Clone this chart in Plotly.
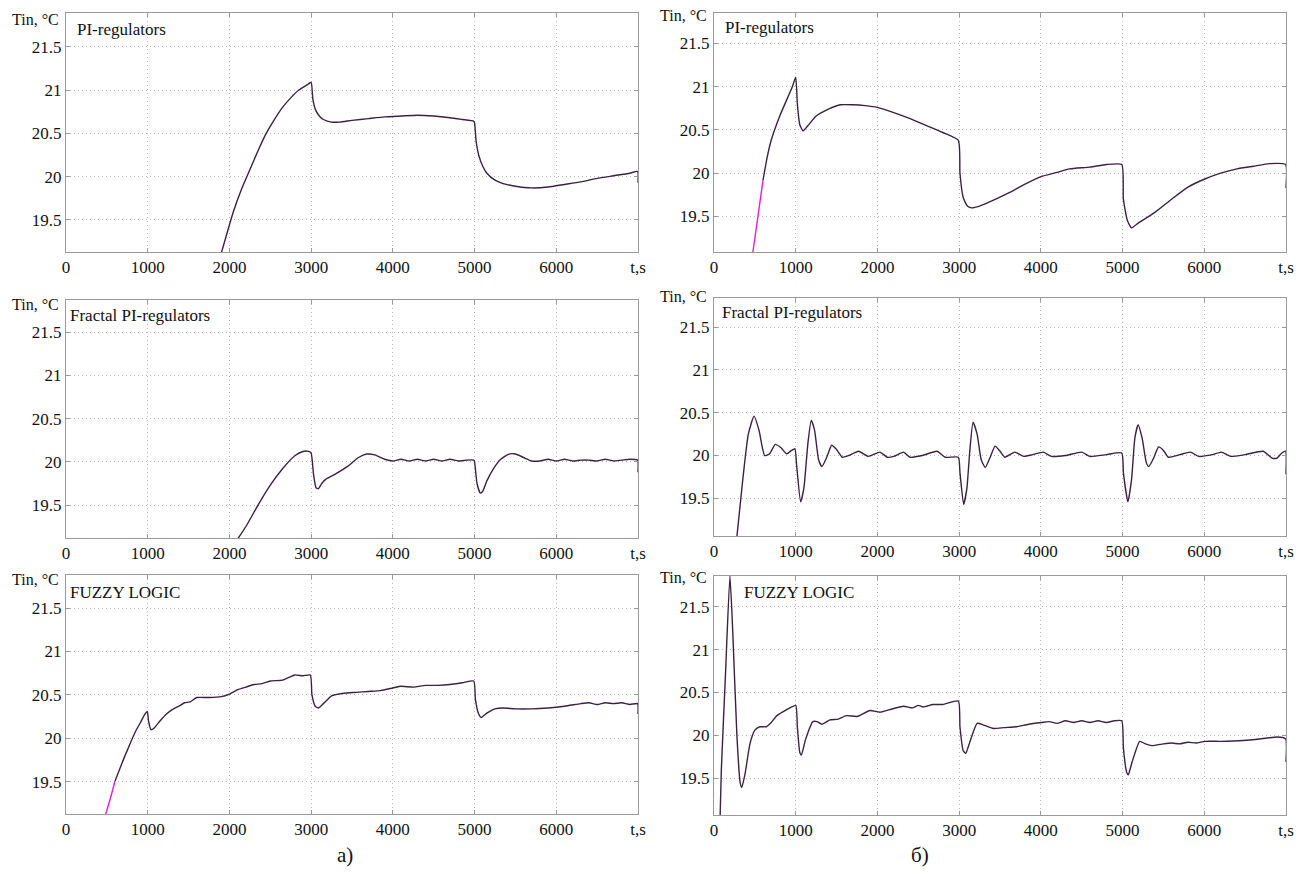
import plotly.graph_objects as go

# ---------------- data ----------------
# a) column
a_pi_t = [1880, 1950, 2050, 2150, 2250, 2350, 2450, 2550, 2650, 2750, 2850, 2950, 3000, 3020, 3050, 3100, 3150, 3250, 3350, 3500,
          3700, 3900, 4100, 4300, 4500, 4700, 4850, 4990, 5000, 5020, 5050, 5100, 5150, 5250, 5350, 5500, 5700, 5900, 6100, 6300,
          6500, 6700, 6900, 6995, 7000]
a_pi_T = [19.05, 19.28, 19.6, 19.86, 20.08, 20.3, 20.5, 20.66, 20.8, 20.91, 21.0, 21.06, 21.09, 20.9, 20.78, 20.7, 20.66, 20.63, 20.63, 20.65,
          20.67, 20.69, 20.7, 20.71, 20.7, 20.68, 20.66, 20.64, 20.62, 20.4, 20.25, 20.12, 20.04, 19.96, 19.92, 19.89, 19.87, 19.88, 19.91, 19.94,
          19.98, 20.01, 20.04, 20.06, 19.93]

a_fr_t = [2080, 2200, 2350, 2500, 2650, 2800, 2900, 2970, 3000, 3030, 3060, 3090, 3130, 3180, 3300, 3450, 3580, 3680, 3780, 3900,
          4000, 4100, 4200, 4300, 4400, 4500, 4600, 4700, 4800, 4900, 4990, 5000, 5030, 5070, 5100, 5150, 5230, 5320, 5420, 5500,
          5600, 5700, 5800, 5900, 6000, 6100, 6200, 6300, 6400, 6500, 6600, 6700, 6800, 6900, 6995, 7000]
a_fr_T = [19.08, 19.25, 19.5, 19.73, 19.92, 20.07, 20.12, 20.12, 20.1, 19.85, 19.7, 19.69, 19.75, 19.8, 19.86, 19.95, 20.05, 20.09, 20.08, 20.03,
          20.01, 20.03, 20.01, 20.03, 20.01, 20.03, 20.01, 20.03, 20.01, 20.02, 20.02, 20.0, 19.75, 19.64, 19.66, 19.78, 19.92, 20.03, 20.09, 20.09,
          20.05, 20.01, 20.01, 20.03, 20.01, 20.03, 20.01, 20.02, 20.02, 20.01, 20.03, 20.01, 20.02, 20.03, 20.02, 19.88]

a_fz_ref_t = [470, 540, 600]
a_fz_ref_T = [19.08, 19.3, 19.51]
a_fz_t = [600, 700, 780, 850, 910, 960, 995, 1010, 1040, 1080, 1150, 1230, 1300, 1400, 1450, 1520, 1600, 1750, 1900, 2000,
          2100, 2200, 2300, 2400, 2500, 2650, 2800, 2900, 2990, 3010, 3050, 3090, 3150, 3250, 3400, 3550, 3700, 3850, 4000, 4100,
          4250, 4400, 4550, 4700, 4850, 4990, 5010, 5050, 5080, 5150, 5250, 5350, 5500, 5700, 5900, 6100, 6300, 6400, 6500, 6600,
          6700, 6800, 6900, 6995, 7000]
a_fz_T = [19.51, 19.75, 19.93, 20.08, 20.18, 20.27, 20.31, 20.2, 20.1, 20.12, 20.2, 20.28, 20.33, 20.38, 20.41, 20.42, 20.47, 20.47, 20.48, 20.51,
          20.56, 20.59, 20.62, 20.63, 20.66, 20.67, 20.73, 20.72, 20.73, 20.5, 20.37, 20.35, 20.4, 20.49, 20.52, 20.53, 20.54, 20.55, 20.58, 20.6,
          20.59, 20.61, 20.61, 20.62, 20.64, 20.66, 20.45, 20.28, 20.24, 20.29, 20.34, 20.35, 20.34, 20.34, 20.35, 20.37, 20.4, 20.41, 20.39, 20.41,
          20.4, 20.41, 20.39, 20.4, 20.28]

# б) column
b_pi_ref_t = [470, 530, 600]
b_pi_ref_T = [19.05, 19.45, 19.92]
b_pi_t = [600, 650, 700, 800, 900, 960, 1000, 1020, 1050, 1090, 1150, 1250, 1400, 1550, 1700, 1850, 2000, 2200, 2400, 2600,
          2800, 2990, 3010, 3050, 3100, 3150, 3250, 3400, 3600, 3800, 4000, 4200, 4350, 4600, 4800, 4990, 5010, 5060, 5110, 5200,
          5400, 5600, 5800, 6000, 6200, 6400, 6600, 6800, 6995, 7000]
b_pi_T = [19.92, 20.18, 20.38, 20.65, 20.87, 21.0, 21.11, 20.8, 20.56, 20.49, 20.55, 20.66, 20.74, 20.79, 20.79, 20.78, 20.76, 20.7, 20.63, 20.55,
          20.47, 20.38, 20.0, 19.72, 19.62, 19.6, 19.62, 19.68, 19.77, 19.87, 19.96, 20.01, 20.05, 20.07, 20.1, 20.1, 19.7, 19.45, 19.37, 19.43,
          19.55, 19.7, 19.84, 19.93, 20.0, 20.05, 20.08, 20.11, 20.1, 19.83]

b_fr_t = [280, 350, 420, 490, 550, 620, 680, 750, 820, 890, 950, 990, 1010, 1060, 1100, 1150, 1190, 1230, 1280,
          1320, 1380, 1440, 1500, 1570, 1650, 1770, 1890, 2030, 2120, 2200, 2320, 2400, 2550, 2730, 2830, 2990, 3010, 3055,
          3095, 3130, 3170, 3220, 3270, 3320, 3380, 3440, 3500, 3560, 3680, 3790, 3900, 4030, 4130, 4300, 4500, 4600, 4800, 4990, 5010,
          5065, 5110, 5150, 5190, 5240, 5290, 5320, 5380, 5440, 5500, 5560, 5700, 5830, 5930, 6100, 6210, 6320, 6500, 6720,
          6830, 6890, 6950, 6995, 7000]
b_fr_T = [19.05, 19.7, 20.25, 20.46, 20.3, 20.0, 20.02, 20.13, 20.09, 20.02, 20.06, 20.08, 19.9, 19.46, 19.62, 20.15, 20.41, 20.3, 19.95,
          19.87, 19.98, 20.12, 20.07, 19.98, 20.0, 20.05, 19.99, 20.04, 19.98, 19.99, 20.04, 19.98, 20.0, 20.05, 19.98, 19.98, 19.8, 19.43,
          19.62, 20.05, 20.39, 20.25, 19.95, 19.86, 19.98, 20.11, 20.05, 19.98, 20.04, 19.99, 20.01, 20.04, 19.99, 20.0, 20.04, 19.99, 20.01, 20.03, 19.8,
          19.46, 19.72, 20.2, 20.36, 20.2, 19.92, 19.87, 19.97, 20.1, 20.06, 19.98, 20.01, 20.04, 19.99, 20.01, 20.04, 19.99, 20.01, 20.05,
          19.97, 19.97, 20.03, 20.05, 19.78]

b_fz_t = [75, 90, 140, 195, 230, 280, 320, 340, 380, 440, 500, 560, 640, 700, 770, 890, 1000, 1020, 1050, 1070,
          1120, 1210, 1260, 1320, 1420, 1520, 1620, 1750, 1910, 2030, 2150, 2320, 2430, 2500, 2560, 2680, 2800, 2990, 3010, 3050,
          3080, 3130, 3220, 3300, 3420, 3550, 3700, 3850, 4010, 4100, 4200, 4300, 4400, 4500, 4600, 4700, 4800, 4900, 4990, 5010,
          5050, 5070, 5120, 5210, 5280, 5360, 5500, 5600, 5700, 5800, 5900, 6010, 6200, 6480, 6700, 6890, 6995, 7000]
b_fz_T = [19.05, 19.6, 20.7, 21.86, 21.2, 20.0, 19.45, 19.39, 19.55, 19.9, 20.06, 20.1, 20.1, 20.15, 20.23, 20.3, 20.35, 20.1, 19.8, 19.77,
          19.95, 20.16, 20.16, 20.13, 20.18, 20.19, 20.23, 20.22, 20.29, 20.27, 20.3, 20.34, 20.32, 20.35, 20.33, 20.36, 20.36, 20.4, 20.1, 19.82,
          19.79, 19.92, 20.14, 20.12, 20.08, 20.09, 20.1, 20.13, 20.15, 20.16, 20.14, 20.17, 20.15, 20.17, 20.15, 20.17, 20.15, 20.17, 20.17, 19.85,
          19.57, 19.54, 19.7, 19.93, 19.9, 19.88, 19.9, 19.91, 19.9, 19.92, 19.91, 19.93, 19.93, 19.94, 19.96, 19.98, 19.96, 19.69]

x_ticks = [0, 1000, 2000, 3000, 4000, 5000, 6000, 7000]
x_tick_text = ["0", "1000", "2000", "3000", "4000", "5000", "6000", "t,s"]
y_ticks = [19.5, 20, 20.5, 21, 21.5]
y_tick_text = ["19.5", "20", "20.5", "21", "21.5"]

titles = ["PI-regulators", "Fractal PI-regulators", "FUZZY LOGIC"]
y_label = "Tin, °C"
col_labels = ["a)", "б)"]

# ---------------- layout geometry ----------------
PAGE_W, PAGE_H = 1303, 872
OFF = 8                       # default body margin of the html page
W, H = PAGE_W - OFF, PAGE_H - OFF
FONT = "Liberation Serif, Times New Roman, Times, serif"
DARK = "#3b2340"
MAG = "#e020e0"

def px(x):
    return (x - OFF) / W

def py(y):
    return 1 - (y - OFF) / H

panels = [
    dict(t=a_pi_t, T=a_pi_T, rt=None, rT=None, x=(66, 638), y=(13, 252), yr=[19.13, 21.89], title=titles[0], tp=(75, 29), lp=(61, 20)),
    dict(t=a_fr_t, T=a_fr_T, rt=None, rT=None, x=(66, 638), y=(300, 538), yr=[19.12, 21.87], title=titles[1], tp=(68, 315), lp=(61, 304)),
    dict(t=a_fz_t, T=a_fz_T, rt=a_fz_ref_t, rT=a_fz_ref_T, x=(66, 638), y=(575, 814), yr=[19.13, 21.88], title=titles[2], tp=(68, 592), lp=(61, 579)),
    dict(t=b_pi_t, T=b_pi_T, rt=b_pi_ref_t, rT=b_pi_ref_T, x=(714, 1286), y=(13, 252), yr=[19.09, 21.85], title=titles[0], tp=(723, 28), lp=(709, 15)),
    dict(t=b_fr_t, T=b_fr_T, rt=None, rT=None, x=(714, 1286), y=(298, 536), yr=[19.06, 21.84], title=titles[1], tp=(720, 312), lp=(709, 297)),
    dict(t=b_fz_t, T=b_fz_T, rt=None, rT=None, x=(714, 1286), y=(576, 815), yr=[19.07, 21.86], title=titles[2], tp=(742, 592), lp=(709, 577)),
]

fig = go.Figure()
annotations = []
layout_axes = {}

for i, p in enumerate(panels, start=1):
    xa = "x" if i == 1 else f"x{i}"
    ya = "y" if i == 1 else f"y{i}"
    if p["rt"] is not None:
        fig.add_trace(go.Scatter(x=p["rt"], y=p["rT"], xaxis=xa, yaxis=ya, mode="lines",
                                 line=dict(color=MAG, width=1.4, shape="spline", smoothing=0.5),
                                 showlegend=False, hoverinfo="skip"))
    fig.add_trace(go.Scatter(x=p["t"], y=p["T"], xaxis=xa, yaxis=ya, mode="lines",
                             line=dict(color=DARK, width=1.4, shape="spline", smoothing=0.5),
                             showlegend=False))
    axis_common = dict(showline=True, linecolor="#9a9a9a", linewidth=1, mirror="ticks",
                       ticks="inside", ticklen=4, tickcolor="#9a9a9a",
                       showgrid=True, gridcolor="#b8b8b8", gridwidth=1, griddash="1px,3px",
                       zeroline=False, automargin=False,
                       tickfont=dict(family=FONT, size=17, color="#111"))
    layout_axes["xaxis" if i == 1 else f"xaxis{i}"] = dict(
        axis_common, domain=[px(p["x"][0]), px(p["x"][1])], range=[0, 7000],
        tickmode="array", tickvals=x_ticks, ticktext=x_tick_text,
        anchor=ya, fixedrange=True)
    layout_axes["yaxis" if i == 1 else f"yaxis{i}"] = dict(
        axis_common, domain=[py(p["y"][1]), py(p["y"][0])], range=p["yr"],
        tickmode="array", tickvals=y_ticks, ticktext=y_tick_text,
        anchor=xa, fixedrange=True)
    annotations.append(dict(text=p["title"], xref="paper", yref="paper",
                            x=px(p["tp"][0]), y=py(p["tp"][1]), xanchor="left", yanchor="middle",
                            showarrow=False, font=dict(family=FONT, size=17, color="#111")))
    annotations.append(dict(text=y_label, xref="paper", yref="paper",
                            x=px(p["lp"][0]), y=py(p["lp"][1]), xanchor="right", yanchor="middle",
                            showarrow=False, font=dict(family=FONT, size=16, color="#111")))

annotations.append(dict(text=col_labels[0], xref="paper", yref="paper", x=px(345), y=py(855),
                        xanchor="center", yanchor="middle", showarrow=False,
                        font=dict(family=FONT, size=21, color="#111")))
annotations.append(dict(text=col_labels[1], xref="paper", yref="paper", x=px(920), y=py(855),
                        xanchor="center", yanchor="middle", showarrow=False,
                        font=dict(family=FONT, size=21, color="#111")))

fig.update_layout(width=W, height=H, margin=dict(l=0, r=0, t=0, b=0, autoexpand=False),
                  paper_bgcolor="white", plot_bgcolor="white",
                  annotations=annotations, showlegend=False, **layout_axes)

fig.write_html("out.html")
